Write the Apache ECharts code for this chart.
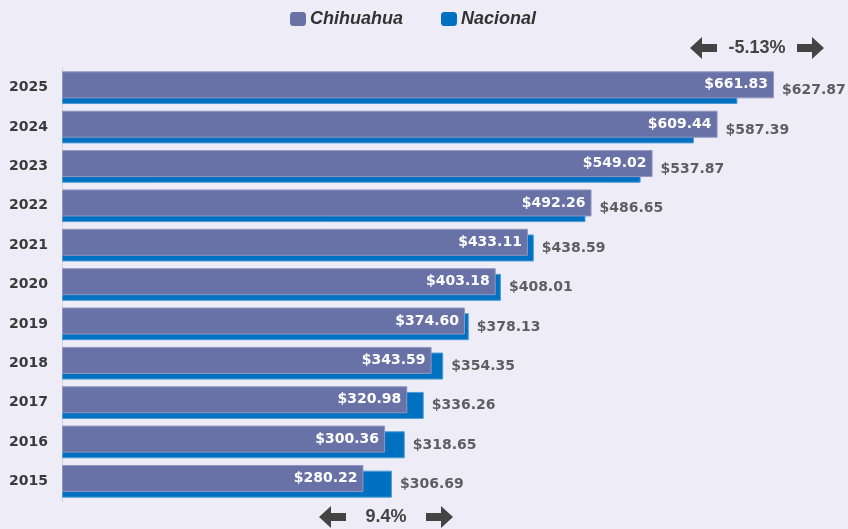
<!DOCTYPE html>
<html>
<head>
<meta charset="utf-8">
<script src="https://cdn.jsdelivr.net/npm/echarts@6/dist/echarts.min.js"></script>
<style>
  html, body { margin: 0; padding: 0; background: #eeecf6; }
  #chart { width: 848px; height: 529px; }
</style>
</head>
<body>
<div id="chart"></div>
<script>
// datos
const years = ["2015", "2016", "2017", "2018", "2019", "2020", "2021", "2022", "2023", "2024", "2025"];
const chihuahua = [280.22, 300.36, 320.98, 343.59, 374.60, 403.18, 433.11, 492.26, 549.02, 609.44, 661.83];
const nacional = [306.69, 318.65, 336.26, 354.35, 378.13, 408.01, 438.59, 486.65, 537.87, 587.39, 627.87];
const topNote = "-5.13%";
const bottomNote = "9.4%";

const chart = echarts.init(document.getElementById("chart"));

const money = (v) => "$" + v.toFixed(2);

// flecha de bloque (izquierda / derecha)
const arrow = (x, dir) => {
  const pts = [[0, 0], [12, -11], [12, -4], [27, -4], [27, 4], [12, 4], [12, 11]];
  return {
    type: "polygon",
    x: x,
    shape: { points: dir < 0 ? pts : pts.map(([px, py]) => [27 - px, py]) },
    style: { fill: "#444444" },
  };
};

const note = (left, top, text) => ({
  type: "group",
  left: left,
  top: top,
  children: [
    arrow(0, -1),
    {
      type: "text",
      x: 67,
      style: {
        text: text,
        x: 0,
        y: 0,
        align: "center",
        verticalAlign: "middle",
        font: 'bold 18px "Liberation Sans"',
        fill: "#444444",
      },
    },
    arrow(107, 1),
  ],
});

const option = {
  backgroundColor: "#eeecf6",
  animation: false,
  legend: {
    data: ["Chihuahua", "Nacional"],
    left: 290,
    top: 10,
    padding: 0,
    icon: "roundRect",
    itemWidth: 16,
    itemHeight: 14,
    itemGap: 38,
    itemStyle: { borderWidth: 0 },
    textStyle: {
      fontFamily: "Liberation Sans",
      fontStyle: "italic",
      fontWeight: "bold",
      fontSize: 18,
      color: "#333333",
      padding: [0, 0, 0, -1],
    },
  },
  grid: {
    left: 62,
    right: 33,
    top: 68,
    bottom: 28,
  },
  xAxis: {
    type: "value",
    min: 0,
    max: 700,
    show: false,
  },
  yAxis: {
    type: "category",
    data: years,
    axisLine: { show: true, lineStyle: { color: "#d2d2da", width: 1 } },
    axisTick: { show: false },
    axisLabel: {
      color: "#3a3a3a",
      fontFamily: "DejaVu Sans",
      fontWeight: "bold",
      fontSize: 14,
      margin: 14,
    },
  },
  series: [
    {
      name: "Chihuahua",
      type: "bar",
      data: chihuahua,
      barWidth: 27,
      barGap: "-79%",
      z: 3,
      itemStyle: { color: "#6872a6", borderColor: "#9097c2", borderWidth: 1 },
      label: {
        show: true,
        position: "insideRight",
        distance: 6,
        color: "#ffffff",
        fontFamily: "DejaVu Sans",
        fontWeight: "bold",
        fontSize: 14,
        formatter: (p) => money(p.value),
      },
    },
    {
      name: "Nacional",
      type: "bar",
      data: nacional,
      barWidth: 27,
      barGap: "-79%",
      z: 2,
      itemStyle: { color: "#0070c0", borderColor: "#4d9bd6", borderWidth: 1 },
    },
    {
      // etiquetas del valor nacional, al final de la barra más larga
      name: "etiqueta",
      type: "scatter",
      symbolSize: 0,
      silent: true,
      z: 4,
      data: years.map((y, i) => [Math.max(chihuahua[i], nacional[i]), y, nacional[i]]),
      label: {
        show: true,
        position: "right",
        distance: 8,
        offset: [0, 3],
        color: "#3a3a3a",
        fontFamily: "DejaVu Sans",
        fontWeight: "bold",
        fontSize: 14,
        formatter: (p) => money(p.value[2]),
      },
    },
  ],
  graphic: [note(690, 37, topNote), note(319, 506, bottomNote)],
};

chart.setOption(option);
</script>
</body>
</html>
